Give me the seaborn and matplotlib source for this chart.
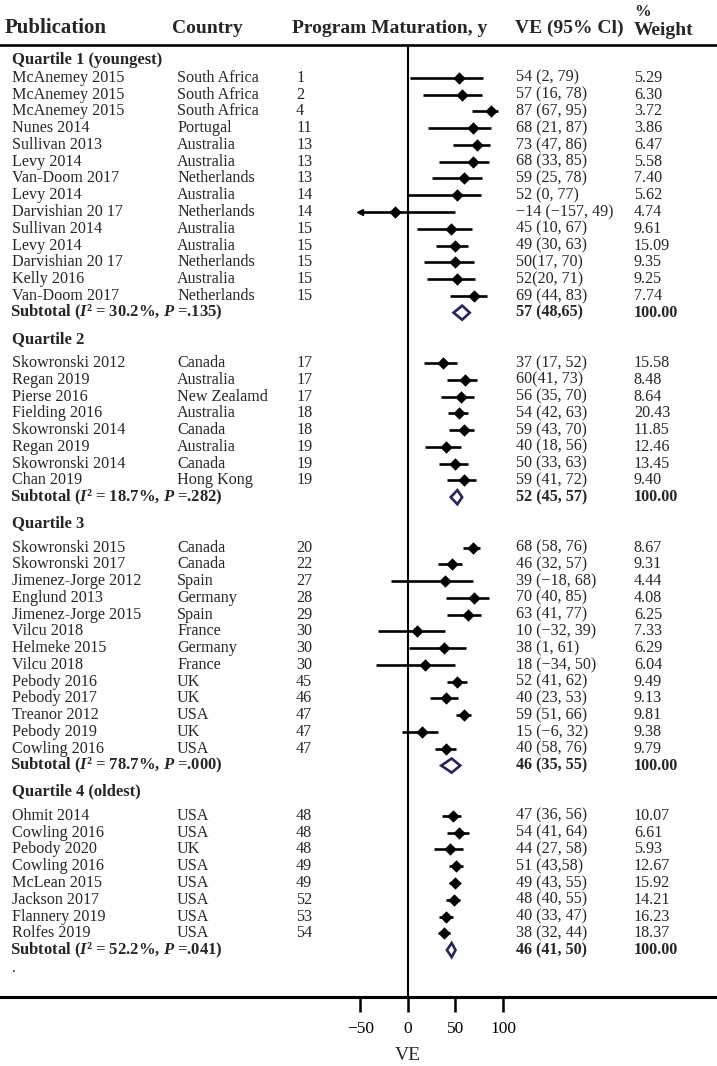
import numpy as np
import pandas as pd
import matplotlib
matplotlib.use("Agg")
import matplotlib.pyplot as plt
import matplotlib.transforms as mtransforms
import seaborn as sns

# study rows (all quartiles, top to bottom)
quartile = [1] * 14 + [2] * 8 + [3] * 13 + [4] * 8
publication = [
    "McAnemey 2015", "McAnemey 2015", "McAnemey 2015", "Nunes 2014", "Sullivan 2013",
    "Levy 2014", "Van-Doom 2017", "Levy 2014", "Darvishian 20 17", "Sullivan 2014",
    "Levy 2014", "Darvishian 20 17", "Kelly 2016", "Van-Doom 2017",
    "Skowronski 2012", "Regan 2019", "Pierse 2016", "Fielding 2016", "Skowronski 2014",
    "Regan 2019", "Skowronski 2014", "Chan 2019",
    "Skowronski 2015", "Skowronski 2017", "Jimenez-Jorge 2012", "Englund 2013",
    "Jimenez-Jorge 2015", "Vilcu 2018", "Helmeke 2015", "Vilcu 2018", "Pebody 2016",
    "Pebody 2017", "Treanor 2012", "Pebody 2019", "Cowling 2016",
    "Ohmit 2014", "Cowling 2016", "Pebody 2020", "Cowling 2016", "McLean 2015",
    "Jackson 2017", "Flannery 2019", "Rolfes 2019",
]
country = [
    "South Africa", "South Africa", "South Africa", "Portugal", "Australia",
    "Australia", "Netherlands", "Australia", "Netherlands", "Australia",
    "Australia", "Netherlands", "Australia", "Netherlands",
    "Canada", "Australia", "New Zealamd", "Australia", "Canada",
    "Australia", "Canada", "Hong Kong",
    "Canada", "Canada", "Spain", "Germany", "Spain", "France", "Germany", "France",
    "UK", "UK", "USA", "UK", "USA",
    "USA", "USA", "UK", "USA", "USA", "USA", "USA", "USA",
]
maturation = [1, 2, 4, 11, 13, 13, 13, 14, 14, 15, 15, 15, 15, 15,
              17, 17, 17, 18, 18, 19, 19, 19,
              20, 22, 27, 28, 29, 30, 30, 30, 45, 46, 47, 47, 47,
              48, 48, 48, 49, 49, 52, 53, 54]
ve = [54, 57, 87, 68, 73, 68, 59, 52, -14, 45, 49, 50, 52, 69,
      37, 60, 56, 54, 59, 40, 50, 59,
      68, 46, 39, 70, 63, 10, 38, 18, 52, 40, 59, 15, 40,
      47, 54, 44, 51, 49, 48, 40, 38]
ve_lo = [2, 16, 67, 21, 47, 33, 25, 0, -157, 10, 30, 17, 20, 44,
         17, 41, 35, 42, 43, 18, 33, 41,
         58, 32, -18, 40, 41, -32, 1, -34, 41, 23, 51, -6, 28,
         36, 41, 27, 43, 43, 40, 33, 32]
ve_hi = [79, 78, 95, 87, 86, 85, 78, 77, 49, 67, 63, 70, 71, 83,
         52, 73, 70, 63, 70, 56, 63, 72,
         76, 57, 68, 85, 77, 39, 61, 50, 62, 53, 66, 32, 51,
         56, 64, 58, 58, 55, 55, 47, 44]
ve_text = [
    "54 (2, 79)", "57 (16, 78)", "87 (67, 95)", "68 (21, 87)", "73 (47, 86)",
    "68 (33, 85)", "59 (25, 78)", "52 (0, 77)", "\u221214 (\u2212157, 49)", "45 (10, 67)",
    "49 (30, 63)", "50(17, 70)", "52(20, 71)", "69 (44, 83)",
    "37 (17, 52)", "60(41, 73)", "56 (35, 70)", "54 (42, 63)", "59 (43, 70)",
    "40 (18, 56)", "50 (33, 63)", "59 (41, 72)",
    "68 (58, 76)", "46 (32, 57)", "39 (\u221218, 68)", "70 (40, 85)", "63 (41, 77)",
    "10 (\u221232, 39)", "38 (1, 61)", "18 (\u221234, 50)", "52 (41, 62)", "40 (23, 53)",
    "59 (51, 66)", "15 (\u22126, 32)", "40 (58, 76)",
    "47 (36, 56)", "54 (41, 64)", "44 (27, 58)", "51 (43,58)", "49 (43, 55)",
    "48 (40, 55)", "40 (33, 47)", "38 (32, 44)",
]
weight = ["5.29", "6.30", "3.72", "3.86", "6.47", "5.58", "7.40", "5.62", "4.74", "9.61",
          "15.09", "9.35", "9.25", "7.74",
          "15.58", "8.48", "8.64", "20.43", "11.85", "12.46", "13.45", "9.40",
          "8.67", "9.31", "4.44", "4.08", "6.25", "7.33", "6.29", "6.04", "9.49",
          "9.13", "9.81", "9.38", "9.79",
          "10.07", "6.61", "5.93", "12.67", "15.92", "14.21", "16.23", "18.37"]

# quartile headers and pooled estimates
group_title = ["Quartile 1 (youngest)", "Quartile 2", "Quartile 3", "Quartile 4 (oldest)"]
sub_i2 = ["30.2%", "18.7%", "78.7%", "52.2%"]
sub_p = [".135", ".282", ".000", ".041"]
sub_ve = [57, 52, 46, 46]
sub_lo = [48, 45, 35, 41]
sub_hi = [65, 57, 55, 50]
sub_text = ["57 (48,65)", "52 (45, 57)", "46 (35, 55)", "46 (41, 50)"]

xticks = [-50, 0, 50, 100]
clip_lo = -50

sns.set_theme(style="white")
plt.rcParams["font.family"] = ["Liberation Serif", "DejaVu Serif"]
plt.rcParams["mathtext.fontset"] = "custom"
plt.rcParams["mathtext.rm"] = "Liberation Serif"
plt.rcParams["mathtext.bf"] = "Liberation Serif:bold"
plt.rcParams["mathtext.bfit"] = "Liberation Serif:italic:bold"

# row layout
df = pd.DataFrame({"quartile": quartile, "publication": publication, "country": country,
                   "maturation": maturation, "ve": ve, "lo": ve_lo, "hi": ve_hi,
                   "ve_text": ve_text, "weight": weight})
rows_y, head_y, sub_y = [], [], []
y = 0.0
for g in range(4):
    if g > 0:
        y += 1.55
    head_y.append(y)
    y += 1.07 if g == 0 else 1.45
    n = (df["quartile"] == g + 1).sum()
    rows_y.extend(y + np.arange(n))
    y += n
    sub_y.append(y)
df["y"] = rows_y
dot_y = sub_y[-1] + 1.05

fig = plt.figure(figsize=(7.17, 10.66), dpi=100)
ax = fig.add_axes([0, 0.0647, 1, 0.8931])
ax.set_xlim(-429.5, 325.3)
ax.set_ylim(55.87, -0.89)

# CI lines, clipped at the left with an arrow
ax.hlines(df["y"], df["lo"].clip(lower=clip_lo), df["hi"], color="black", lw=1.9)
clipped = df[df["lo"] < clip_lo]
ax.plot(np.full(len(clipped), clip_lo), clipped["y"], marker="<", ms=4.5,
        color="black", ls="none")
sns.scatterplot(data=df, x="ve", y="y", marker="D", s=40, color="black",
                edgecolor="black", linewidth=0, legend=False, ax=ax, zorder=3)

# pooled diamonds
for g in range(4):
    h = 0.42
    ax.fill([sub_lo[g], sub_ve[g], sub_hi[g], sub_ve[g]],
            [sub_y[g], sub_y[g] - h, sub_y[g], sub_y[g] + h],
            facecolor="white", edgecolor="#25245c", lw=1.9, zorder=3)

ax.axvline(0, color="black", lw=1.5, zorder=1)

# text columns
tr = mtransforms.blended_transform_factory(ax.transAxes, ax.transData)
col_pub, col_cty, col_mat, col_ve, col_w = 0.0167, 0.247, 0.413, 0.72, 0.884
fs = 11.6
for _, r in df.iterrows():
    ax.text(col_pub, r["y"], r["publication"], transform=tr, va="center", fontsize=fs)
    ax.text(col_cty, r["y"], r["country"], transform=tr, va="center", fontsize=fs)
    ax.text(col_mat, r["y"], str(r["maturation"]), transform=tr, va="center", fontsize=fs)
    ax.text(col_ve, r["y"], r["ve_text"], transform=tr, va="center", fontsize=fs)
    ax.text(col_w, r["y"], r["weight"], transform=tr, va="center", fontsize=fs)

for g in range(4):
    ax.text(col_pub, head_y[g], group_title[g], transform=tr, va="center",
            fontsize=12, fontweight="bold")
    label = (r"Subtotal ($\mathbfit{I}$" + "\u00b2 = " + sub_i2[g]
             + r", $\mathbfit{P}$ =" + sub_p[g] + ")")
    ax.text(col_pub - 0.003, sub_y[g], label, transform=tr, va="center",
            fontsize=12, fontweight="bold")
    ax.text(col_ve, sub_y[g], sub_text[g], transform=tr, va="center",
            fontsize=fs, fontweight="bold")
    ax.text(col_w, sub_y[g], "100.00", transform=tr, va="center",
            fontsize=fs, fontweight="bold")
ax.text(col_pub, dot_y, ".", transform=tr, va="center", fontsize=fs)

# header
hy = 1 - 33 / 1066
fig.text(0.007, hy, "Publication", fontsize=15, fontweight="bold", va="baseline")
fig.text(0.24, hy, "Country", fontsize=14, fontweight="bold", va="baseline")
fig.text(0.407, hy, "Program Maturation, y", fontsize=14, fontweight="bold", va="baseline")
fig.text(0.718, hy, "VE (95% Cl)", fontsize=14, fontweight="bold", va="baseline")
fig.text(0.884, 1 - 35 / 1066, "Weight", fontsize=14, fontweight="bold", va="baseline")
fig.text(0.884, 1 - 16 / 1066, "%", fontsize=12, fontweight="bold", va="baseline")

# axes styling
for side in ["left", "right"]:
    ax.spines[side].set_visible(False)
ax.spines["top"].set_linewidth(1.9)
ax.spines["bottom"].set_linewidth(2.2)
ax.spines["top"].set_color("black")
ax.spines["bottom"].set_color("black")
ax.set_yticks([])
ax.set_ylabel("")
ax.set_xticks(xticks)
ax.tick_params(axis="x", direction="out", length=11, width=1.8, pad=6,
               labelsize=12.5, bottom=True, colors="black")
ax.set_xlabel("VE", fontsize=14)
ax.xaxis.set_label_coords(408 / 717, -0.053)

fig.savefig("out.png", dpi=100, facecolor="white")
